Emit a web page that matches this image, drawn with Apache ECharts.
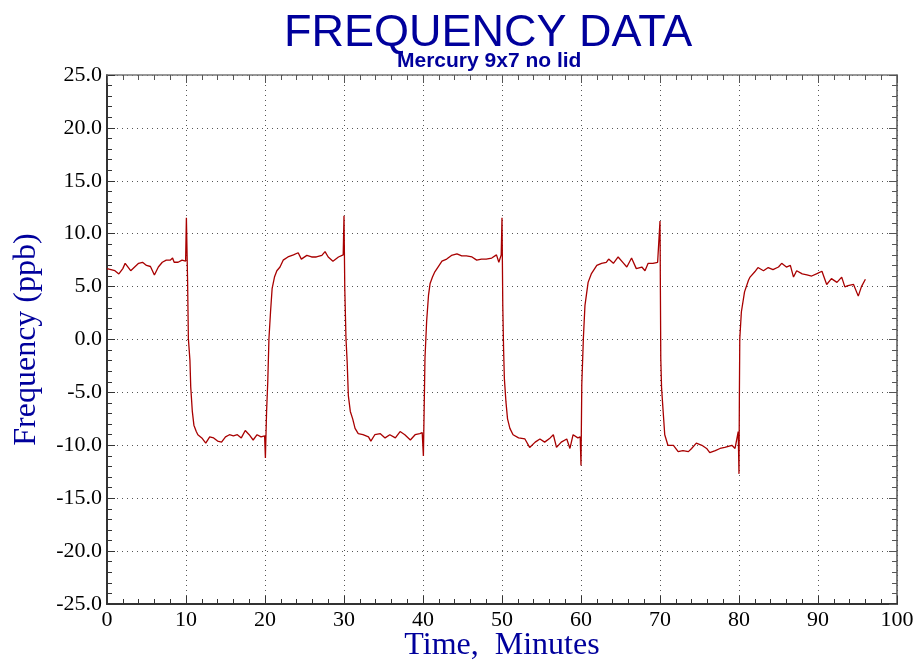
<!DOCTYPE html>
<html>
<head>
<meta charset="utf-8">
<script src="https://cdn.jsdelivr.net/npm/echarts@6/dist/echarts.min.js"></script>
<style>
html, body { margin: 0; padding: 0; background: #fff; }
#main { width: 915px; height: 664px; }
</style>
</head>
<body>
<div id="main"></div>
<script>
// 时间（分钟）
var minutes = [
	0, 0.5, 1, 1.5, 2, 2.3, 3, 3.5, 4, 4.5, 5, 5.5, 6, 6.5, 7, 7.5, 8, 8.3, 8.5, 9, 9.5, 9.95,
	10.05, 10.2, 10.3, 10.5, 10.6, 10.8, 11, 11.3, 11.5, 12, 12.5, 13, 13.5, 14, 14.5, 15, 15.5,
	16, 16.5, 17, 17.5, 18, 18.5, 19, 19.5, 19.95,
	20.05, 20.2, 20.35, 20.5, 20.7, 20.9, 21.2, 21.5, 21.9, 22.3, 22.9, 23.6, 24.2, 24.6, 25.3,
	25.9, 26.5, 27.2, 27.6, 28, 28.6, 29.3, 29.9,
	30.0, 30.1, 30.25, 30.4, 30.55, 30.8, 31.1, 31.4, 31.8, 32.4, 33.1, 33.4, 33.9, 34.6, 35.2,
	35.8, 36.5, 37.1, 37.7, 38.4, 39, 39.6, 39.9,
	40.05, 40.25, 40.46, 40.7, 40.9, 41.2, 41.5, 41.9, 42.4, 43, 43.6, 44.3, 44.9, 45.5, 46.2,
	46.8, 47.4, 48, 48.7, 49.3, 49.6, 49.9,
	50.0, 50.1, 50.2, 50.3, 50.5, 50.7, 51, 51.4, 52.1, 52.9, 53.5, 54.2, 54.8, 55.4, 56.1, 56.5,
	56.9, 57.5, 58.2, 58.6, 59, 59.6, 59.9,
	60.0, 60.1, 60.3, 60.5, 60.9, 61.3, 62, 62.6, 63.2, 63.5, 64.1, 64.7, 65.4, 65.8, 66.4, 67,
	67.7, 68.1, 68.5, 69.1, 69.7, 69.95,
	70.0, 70.1, 70.2, 70.4, 70.6, 71, 71.7, 72.3, 72.9, 73.6, 74, 74.6, 75.3, 75.9, 76.3, 77,
	77.6, 78.2, 79.1, 79.5, 79.9,
	80.0, 80.05, 80.1, 80.3, 80.7, 81.2, 81.4, 82, 82.4, 83.1, 83.7, 84.3, 85, 85.4, 86, 86.5,
	86.9, 87.3, 88, 88.6, 89.2, 89.8, 90.5, 91.1, 91.7, 92.4, 93, 93.4, 93.8, 94.5, 95.1, 95.5, 96
];
// 频率 (ppb)
var ppb = [
	6.7, 6.6, 6.5, 6.2, 6.7, 7.2, 6.5, 6.85, 7.2, 7.3, 7.0, 6.9, 6.1, 6.85, 7.3, 7.5, 7.5, 7.7, 7.3, 7.3, 7.5, 7.4,
	11.5, 5.6, 0.1, -2.0, -4.5, -6.8, -8.1, -8.7, -9.0, -9.3, -9.8, -9.2, -9.3, -9.6, -9.7, -9.2, -9.0,
	-9.1, -9.0, -9.3, -8.6, -9.0, -9.5, -9.0, -9.2, -9.1,
	-11.2, -6.8, -4.0, 0.1, 2.6, 4.8, 5.9, 6.5, 6.85, 7.5, 7.8, 8.0, 8.2, 7.6, 7.95,
	7.8, 7.8, 7.95, 8.3, 7.8, 7.4, 7.8, 8.0,
	11.7, 4.8, 0.1, -2.1, -5.3, -6.8, -7.5, -8.4, -8.9, -9.0, -9.2, -9.6, -9.0, -8.9, -9.3,
	-9.0, -9.3, -8.7, -9.0, -9.5, -9.0, -8.9, -8.8,
	-11.0, -1.8, 1.7, 4.2, 5.3, 5.9, 6.4, 6.85, 7.4, 7.6, 7.95, 8.1, 7.9, 7.9, 7.8,
	7.5, 7.6, 7.6, 7.7, 8.0, 7.3, 8.0,
	11.5, 3.2, -0.85, -3.7, -5.9, -7.5, -8.4, -9.0, -9.3, -9.4, -10.2, -9.7, -9.4, -9.7, -9.3, -9.0,
	-10.2, -9.7, -9.4, -10.3, -9.0, -9.3, -9.2,
	-11.9, -4.3, 0.1, 3.2, 5.4, 6.2, 7.0, 7.2, 7.3, 7.6, 7.2, 7.8, 7.2, 6.85, 7.7, 6.7,
	6.85, 6.5, 7.2, 7.2, 7.3, 7.2,
	11.2, -1.8, -4.6, -6.8, -9.0, -10.0, -10.0, -10.6, -10.5, -10.6, -10.3, -9.8, -10.0, -10.3, -10.7, -10.5,
	-10.3, -10.2, -10.0, -10.3, -8.7,
	-12.7, -5.2, 0.1, 2.6, 4.5, 5.6, 5.9, 6.4, 6.8, 6.5, 6.8, 6.6, 6.85, 7.2, 6.85, 7.0,
	5.9, 6.5, 6.2, 6.1, 6.0, 6.2, 6.45, 5.2, 5.75, 5.4, 5.9, 4.97, 5.1, 5.2, 4.1, 5.0, 5.7
];
var xTicks = [0, 100, 10];
var yTicks = [-25, 25, 5];

var seriesData = [];
for (var i = 0; i < minutes.length; i++) {
	seriesData.push([minutes[i], ppb[i]]);
}

var blue = '#00009c';
var sans = '"Liberation Sans", Arial, sans-serif';
var serif = '"Liberation Serif", "DejaVu Serif", serif';
var gridLine = { show: true, lineStyle: { color: '#555', type: [1, 4], width: 1 } };

var myChart = echarts.init(document.getElementById('main'));
var option = {
	animation: false,
	backgroundColor: '#fff',
	title: [{
		text: 'FREQUENCY DATA',
		left: 279,
		top: 6,
		textStyle: { fontFamily: sans, fontSize: 45, fontWeight: 'normal', color: blue }
	}, {
		text: 'Mercury 9x7 no lid',
		left: 392,
		top: 46,
		textStyle: { fontFamily: sans, fontSize: 21, fontWeight: 'bold', color: blue }
	}],
	grid: { left: 107, right: 18, top: 75, bottom: 60, outerBoundsMode: 'none', containLabel: false },
	xAxis: [{
		type: 'value',
		min: xTicks[0], max: xTicks[1], interval: xTicks[2],
		name: 'Time,  Minutes',
		nameLocation: 'middle',
		nameGap: 26,
		nameMoveOverlap: false,
		nameTextStyle: { fontFamily: serif, fontSize: 32, color: blue },
		axisLine: { show: true, onZero: false, lineStyle: { color: '#333', width: 2 } },
		axisTick: { show: true, inside: true, length: 8, lineStyle: { color: '#333' } },
		minorTick: { show: true, splitNumber: 5, length: 5, lineStyle: { color: '#333' } },
		axisLabel: { fontFamily: serif, fontSize: 22, color: '#000', margin: 5 },
		splitLine: gridLine
	}, {
		type: 'value', position: 'top',
		min: xTicks[0], max: xTicks[1], interval: xTicks[2],
		axisLine: { show: true, onZero: false, lineStyle: { color: '#777', width: 1.5 } },
		axisTick: { show: true, inside: true, length: 8, lineStyle: { color: '#555' } },
		minorTick: { show: true, splitNumber: 5, length: 5, lineStyle: { color: '#555' } },
		axisLabel: { show: false },
		splitLine: { show: false }
	}],
	yAxis: [{
		type: 'value',
		min: yTicks[0], max: yTicks[1], interval: yTicks[2],
		name: 'Frequency (ppb)',
		nameLocation: 'middle',
		nameGap: 64,
		nameTextStyle: { fontFamily: serif, fontSize: 32, color: blue },
		axisLine: { show: true, onZero: false, lineStyle: { color: '#333', width: 2 } },
		axisTick: { show: true, inside: true, length: 8, lineStyle: { color: '#333' } },
		minorTick: { show: true, splitNumber: 5, length: 5, lineStyle: { color: '#333' } },
		axisLabel: {
			fontFamily: serif, fontSize: 22, color: '#000', margin: 5,
			formatter: function (v) { return v.toFixed(1); }
		},
		splitLine: gridLine
	}, {
		type: 'value', position: 'right',
		min: yTicks[0], max: yTicks[1], interval: yTicks[2],
		axisLine: { show: true, onZero: false, lineStyle: { color: '#555', width: 1.5 } },
		axisTick: { show: true, inside: true, length: 8, lineStyle: { color: '#555' } },
		minorTick: { show: true, splitNumber: 5, length: 5, lineStyle: { color: '#555' } },
		axisLabel: { show: false },
		splitLine: { show: false }
	}],
	series: [{
		type: 'line',
		data: seriesData,
		showSymbol: false,
		lineStyle: { color: '#a80000', width: 1.3 },
		itemStyle: { color: '#a80000' }
	}]
};
myChart.setOption(option);
</script>
</body>
</html>
